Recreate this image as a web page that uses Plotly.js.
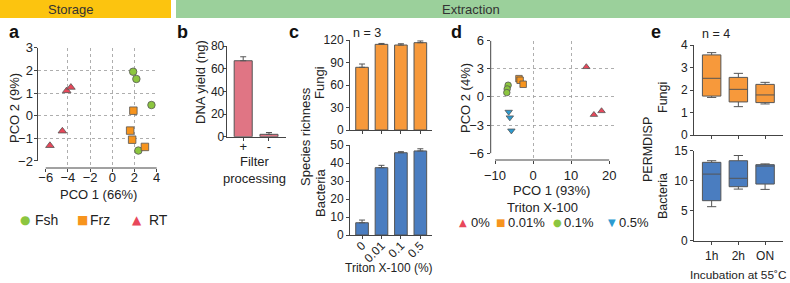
<!DOCTYPE html>
<html><head><meta charset="utf-8">
<script src="https://cdn.plot.ly/plotly-3.0.1.min.js"></script>
<style>body{margin:0;background:#fff;} #chart{width:790px;height:283px;}</style>
</head><body><div id="chart"></div>
<script>
// ---------- DATA ----------
// Panel a: PCoA (storage)
const aGroups = ['Fsh', 'Frz', 'RT'];
const aFshX = [1.88, 2.17, 3.53, 2.35];
const aFshY = [1.94, 1.62, 0.47, -1.54];
const aFrzX = [1.90, 1.61, 1.79, 2.94];
const aFrzY = [0.22, -0.66, -1.06, -1.38];
const aRtX = [-4.11, -3.73, -4.50, -5.62];
const aRtY = [1.10, 1.25, -0.68, -1.32];
const aXTicks = [-6, -4, -2, 0, 2, 4];
const aYTicks = [-2, -1, 0, 1, 2, 3];
const aXGrid = [-4, -2, 0, 2];
const aYGrid = [-1, 0, 1, 2];

// Panel b: DNA yield
const bCats = ['+', '-'];
const bYield = [67.0, 2.1];
const bErr = [3.5, 1.6];
const bYTicks = [0, 20, 40, 60, 80];

// Panel c: species richness vs Triton X-100
const cCats = ['0', '0.01', '0.1', '0.5'];
const cFungi = [83.6, 114.2, 113.3, 116.4];
const cFungiErr = [4.4, 1.2, 1.7, 2.3];
const cBact = [6.8, 37.4, 45.7, 46.7];
const cBactErr = [1.5, 1.3, 0.6, 1.2];
const cFungiTicks = [0, 30, 60, 90, 120];
const cBactTicks = [0, 10, 20, 30, 40, 50];

// Panel d: PCoA (Triton X-100)
const dGroups = ['0%', '0.01%', '0.1%', '0.5%'];
const d0X = [14.0, 16.0, 18.0];
const d0Y = [3.2, -1.9, -1.5];
const d001X = [-3.7, -3.4, -2.6];
const d001Y = [1.95, 1.78, 1.35];
const d01X = [-6.55, -6.8, -6.9];
const d01Y = [1.25, 0.85, 0.46];
const d05X = [-6.4, -6.1, -5.7];
const d05Y = [-1.6, -2.2, -3.6];
const dXTicks = [-10, 0, 10, 20];
const dYTicks = [-6, -3, 0, 3, 6];
const dXGrid = [0, 10];
const dYGrid = [-3, 0, 3];

// Panel e: PERMDISP boxes
const eCats = ['1h', '2h', 'ON'];
const eFungiLow = [1.67, 1.26, 1.38];
const eFungiQ1 = [1.73, 1.47, 1.44];
const eFungiMed = [2.52, 2.03, 1.78];
const eFungiQ3 = [3.56, 2.56, 2.25];
const eFungiHigh = [3.66, 2.74, 2.34];
const eBactLow = [5.67, 8.6, 8.55];
const eBactQ1 = [6.67, 9.0, 9.44];
const eBactMed = [11.1, 10.4, 12.44];
const eBactQ3 = [13.06, 13.33, 12.67];
const eBactHigh = [13.33, 14.2, 12.8];
const eFungiTicks = [0, 1, 2, 3, 4];
const eBactTicks = [0, 5, 10, 15];

// ---------- STYLE ----------
const W = 790, H = 283;
const FONT = 'Liberation Sans, Arial, Helvetica, sans-serif';
const TXT = '#222';
const AX = '#444';
const GRID = '#9a9a9a';
const C_FSH = '#8CC63F', C_FRZ = '#F7941D', C_RT = '#E8475A', C_BLUE = '#2C9BD1';
const C_B = '#E07584', C_FUNGI = '#F7993B', C_BACT = '#4A7DC0';
const MLINE = {color: '#555', width: 0.8};

const px = p => p / W;
const dom = (a, b) => [a / W, b / W];
const vdom = (top, bottom) => [1 - bottom / H, 1 - top / H];

function baseAxis(extra, fs) {
  return Object.assign({
    showgrid: false, zeroline: false, showline: false,
    ticks: 'outside', ticklen: 3, tickwidth: 1, tickcolor: AX,
    linecolor: AX, linewidth: 1,
    tickfont: {family: FONT, size: fs || 13, color: TXT},
    fixedrange: true
  }, extra);
}
function gridMinor(vals) {
  return {tickvals: vals, showgrid: true, gridcolor: GRID, griddash: 'dot', gridwidth: 0.8, ticks: ''};
}

// ---------- TRACES ----------
const traces = [];
// a
traces.push({type: 'scatter', mode: 'markers', x: aFshX, y: aFshY, xaxis: 'x', yaxis: 'y', name: aGroups[0], showlegend: false,
  marker: {symbol: 'circle', size: 7.5, color: C_FSH, line: MLINE}});
traces.push({type: 'scatter', mode: 'markers', x: aFrzX, y: aFrzY, xaxis: 'x', yaxis: 'y', name: aGroups[1], showlegend: false,
  marker: {symbol: 'square', size: 7.5, color: C_FRZ, line: MLINE}});
traces.push({type: 'scatter', mode: 'markers', x: aRtX, y: aRtY, xaxis: 'x', yaxis: 'y', name: aGroups[2], showlegend: false,
  marker: {symbol: 'triangle-up', size: 7.5, color: C_RT, line: MLINE}});
// b
traces.push({type: 'bar', x: bCats, y: bYield, xaxis: 'x2', yaxis: 'y2', width: 0.7, showlegend: false,
  marker: {color: C_B, line: {color: '#555', width: 1}},
  error_y: {type: 'data', array: bErr, arrayminus: bErr.map(() => 0), symmetric: false, color: '#555', thickness: 1, width: 3}});
// c
traces.push({type: 'bar', x: cCats, y: cFungi, xaxis: 'x3', yaxis: 'y3', width: 0.65, showlegend: false,
  marker: {color: C_FUNGI, line: {color: '#555', width: 1}},
  error_y: {type: 'data', array: cFungiErr, arrayminus: cFungiErr.map(() => 0), symmetric: false, color: '#555', thickness: 1, width: 3}});
traces.push({type: 'bar', x: cCats, y: cBact, xaxis: 'x4', yaxis: 'y4', width: 0.65, showlegend: false,
  marker: {color: C_BACT, line: {color: '#555', width: 1}},
  error_y: {type: 'data', array: cBactErr, arrayminus: cBactErr.map(() => 0), symmetric: false, color: '#555', thickness: 1, width: 3}});
// d
traces.push({type: 'scatter', mode: 'markers', x: d0X, y: d0Y, xaxis: 'x5', yaxis: 'y5', name: dGroups[0], showlegend: false,
  marker: {symbol: 'triangle-up', size: 6.5, color: C_RT, line: MLINE}});
traces.push({type: 'scatter', mode: 'markers', x: d001X, y: d001Y, xaxis: 'x5', yaxis: 'y5', name: dGroups[1], showlegend: false,
  marker: {symbol: 'square', size: 6.5, color: C_FRZ, line: MLINE}});
traces.push({type: 'scatter', mode: 'markers', x: d01X, y: d01Y, xaxis: 'x5', yaxis: 'y5', name: dGroups[2], showlegend: false,
  marker: {symbol: 'circle', size: 6.5, color: C_FSH, line: MLINE}});
traces.push({type: 'scatter', mode: 'markers', x: d05X, y: d05Y, xaxis: 'x5', yaxis: 'y5', name: dGroups[3], showlegend: false,
  marker: {symbol: 'triangle-down', size: 6.5, color: C_BLUE, line: MLINE}});
// e
traces.push({type: 'box', x: eCats, lowerfence: eFungiLow, q1: eFungiQ1, median: eFungiMed, q3: eFungiQ3, upperfence: eFungiHigh,
  xaxis: 'x6', yaxis: 'y6', width: 0.69, whiskerwidth: 0.5, boxpoints: false, showlegend: false,
  fillcolor: C_FUNGI, line: {color: '#555', width: 1}});
traces.push({type: 'box', x: eCats, lowerfence: eBactLow, q1: eBactQ1, median: eBactMed, q3: eBactQ3, upperfence: eBactHigh,
  xaxis: 'x7', yaxis: 'y7', width: 0.69, whiskerwidth: 0.5, boxpoints: false, showlegend: false,
  fillcolor: C_BACT, line: {color: '#555', width: 1}});

// ---------- LAYOUT ----------
const layout = {
  width: W, height: H, margin: {l: 0, r: 0, t: 0, b: 0},
  paper_bgcolor: '#fff', plot_bgcolor: 'rgba(0,0,0,0)',
  font: {family: FONT, size: 13, color: TXT},
  showlegend: false,
  // a
  xaxis: baseAxis({domain: dom(37.5, 158), range: [-6.74, 4.12], tickvals: aXTicks, minor: gridMinor(aXGrid), ticklabelstandoff: -6, anchor: 'y'}),
  yaxis: baseAxis({domain: vdom(47.7, 168), range: [-2.31, 3.0], tickvals: aYTicks, minor: gridMinor(aYGrid), ticklabelstandoff: -2, anchor: 'x'}),
  // b
  xaxis2: baseAxis({domain: dom(226.7, 286), range: [-0.64, 1.66], type: 'category', showline: true, ticklabelstandoff: -5, anchor: 'y2'}, 13),
  yaxis2: baseAxis({domain: vdom(46, 136.7), range: [0, 80], tickvals: bYTicks, showline: true, ticklabelstandoff: -4, anchor: 'x2'}, 12),
  // c
  xaxis3: baseAxis({domain: dom(350, 432), range: [-0.62, 3.6], type: 'category', showline: true, showticklabels: false, anchor: 'y3'}, 12),
  yaxis3: baseAxis({domain: vdom(40, 130), range: [0, 120], tickvals: cFungiTicks, showline: true, anchor: 'x3'}, 12),
  xaxis4: baseAxis({domain: dom(350, 432), range: [-0.62, 3.6], type: 'category', showline: true, tickangle: -45, ticklabelstandoff: -5, anchor: 'y4'}, 12),
  yaxis4: baseAxis({domain: vdom(145, 235), range: [0, 50], tickvals: cBactTicks, showline: true, anchor: 'x4'}, 12),
  // d
  xaxis5: baseAxis({domain: dom(490.7, 616), range: [-11.13, 21.8], tickvals: dXTicks, minor: gridMinor(dXGrid), anchor: 'y5'}),
  yaxis5: baseAxis({domain: vdom(40.7, 160), range: [-6.73, 6.0], tickvals: dYTicks, minor: gridMinor(dYGrid), anchor: 'x5'}),
  // e
  xaxis6: baseAxis({domain: dom(694, 783), range: [-0.66, 2.67], type: 'category', showline: true, showticklabels: false, anchor: 'y6'}, 12),
  yaxis6: baseAxis({domain: vdom(45, 135), range: [0, 4], tickvals: eFungiTicks, showline: true, anchor: 'x6'}, 12),
  xaxis7: baseAxis({domain: dom(694, 783), range: [-0.66, 2.67], type: 'category', showline: true, ticklabelstandoff: 1, anchor: 'y7'}, 12),
  yaxis7: baseAxis({domain: vdom(150.7, 240.7), range: [0, 15], tickvals: eBactTicks, showline: true, anchor: 'x7'}, 12),
  shapes: [],
  annotations: []
};

// Header bars
layout.shapes.push({type: 'rect', xref: 'paper', yref: 'paper', x0: 0, x1: px(171), y0: 1 - 18 / H, y1: 1, fillcolor: '#FCC40F', line: {width: 0}, layer: 'below'});
layout.shapes.push({type: 'rect', xref: 'paper', yref: 'paper', x0: px(176), x1: 1, y0: 1 - 18 / H, y1: 1, fillcolor: '#9BD09B', line: {width: 0}, layer: 'below'});

// Offset axis lines for the PCoA panels (span first to last tick)
function offsetAxes(xa, ya, xt, yt) {
  layout.shapes.push({type: 'line', xref: xa, yref: ya + ' domain', x0: xt[0], x1: xt[xt.length - 1], y0: 0, y1: 0, line: {color: AX, width: 1}});
  layout.shapes.push({type: 'line', xref: xa + ' domain', yref: ya, x0: 0, x1: 0, y0: yt[0], y1: yt[yt.length - 1], line: {color: AX, width: 1}});
}
offsetAxes('x', 'y', aXTicks, aYTicks);
offsetAxes('x5', 'y5', dXTicks, dYTicks);

// Annotations helper (pixel positions)
function ann(text, x, y, o) {
  o = o || {};
  layout.annotations.push(Object.assign({
    text: text, xref: 'paper', yref: 'paper', x: px(x), y: 1 - y / H,
    xanchor: 'center', yanchor: 'middle', showarrow: false,
    font: {family: FONT, size: 13, color: TXT}
  }, o));
}
const f = s => ({family: FONT, size: s, color: TXT});
// header text
ann('Storage', 71, 9.5, {font: {family: FONT, size: 13, color: '#333'}});
ann('Extraction', 471, 9.5, {font: {family: FONT, size: 13, color: '#333'}});
// panel letters
[['a', 14], ['b', 182], ['c', 294], ['d', 456], ['e', 656]].forEach(([t, x]) =>
  ann('<b>' + t + '</b>', x, 32, {font: {family: FONT, size: 18, color: '#111'}}));
ann('n = 3', 367, 33, {font: f(12.5)});
ann('n = 4', 716, 34, {font: f(12.5)});
// a titles
ann('PCO 2 (9%)', 14, 108, {textangle: -90});
ann('PCO 1 (66%)', 98.5, 194);
// b titles
ann('DNA yield (ng)', 200, 82, {textangle: -90});
ann('Filter<br>processing', 254, 170);
// c titles
ann('Species richness', 305, 137, {textangle: -90});
ann('Fungi', 320, 83, {textangle: -90});
ann('Bacteria', 320, 193, {textangle: -90});
ann('Triton X-100 (%)', 389, 268, {font: f(12)});
// d titles
ann('PCO 2 (4%)', 465, 98, {textangle: -90});
ann('PCO 1 (93%)', 551, 190);
ann('Triton X-100', 542, 207);
// e titles
ann('PERMDISP', 648, 150, {textangle: -90, font: f(12.5)});
ann('Fungi', 663, 98, {textangle: -90, font: f(12.5)});
ann('Bacteria', 663, 196, {textangle: -90, font: f(12.5)});
ann('Incubation at 55˚C', 738, 275, {font: f(11.8)});

// Legends (keys drawn as glyphs)
const aGlyphs = ['●', '■', '▲'];
const aColors = [C_FSH, C_FRZ, C_RT];
const aKeyX = [25, 82, 137], aTextX = [33, 88, 147];
aGroups.forEach((g, i) => {
  ann(aGlyphs[i], aKeyX[i], 220, {font: {family: 'DejaVu Sans', size: 12, color: aColors[i]}});
  ann(g, aTextX[i], 220, {xanchor: 'left', font: f(14)});
});
const dGlyphs = ['▲', '■', '●', '▼'];
const dColors = [C_RT, C_FRZ, C_FSH, C_BLUE];
const dKeyX = [463, 500, 557, 612], dTextX = [469, 506, 562, 617];
dGroups.forEach((g, i) => {
  ann(dGlyphs[i], dKeyX[i], 222, {font: {family: 'DejaVu Sans', size: 10, color: dColors[i]}});
  ann(g, dTextX[i], 222, {xanchor: 'left', font: f(13)});
});

Plotly.newPlot('chart', traces, layout, {staticPlot: true, displayModeBar: false});
</script>
</body></html>
